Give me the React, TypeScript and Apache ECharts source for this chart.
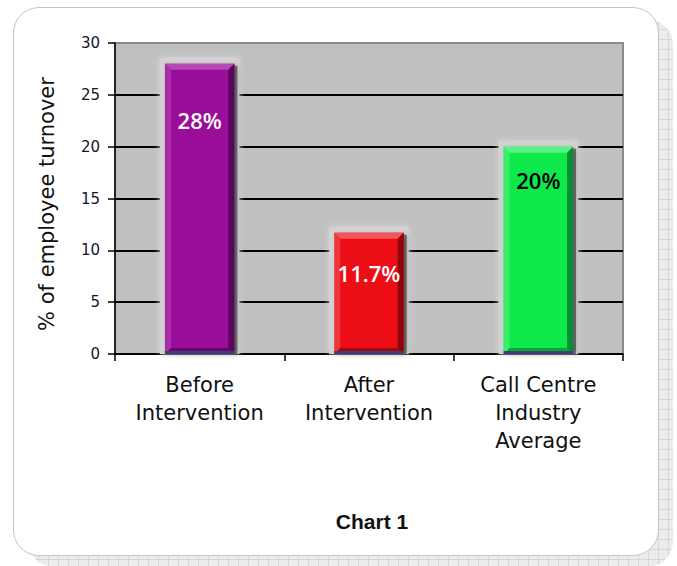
import React, { useEffect, useRef } from "react";
import * as echarts from "echarts";

const categories = ["Before\nIntervention", "After\nIntervention", "Call Centre\nIndustry\nAverage"];
const values = [28, 11.7, 20];
const valueLabels = ["28%", "11.7%", "20%"];
const yTicks = [0, 5, 10, 15, 20, 25, 30];

const barFill = ["#9a0d9a", "#ec0d16", "#0de94b"];
const barLight = ["#b448b4", "#f4555c", "#5cf386"];
const barDark = ["#5a065a", "#8c060b", "#079032"];
const labelColor = ["#ffffff", "#ffffff", "#000000"];
const labelOffset = [56, 40, 33];

export default function App() {
  const ref = useRef<HTMLDivElement>(null);
  useEffect(() => {
    if (!ref.current) return;
    const chart = echarts.init(ref.current, undefined, { renderer: "svg" });
    const data = values.map((v, i) => [i, v]);
    chart.setOption({
      animation: false,
      backgroundColor: "transparent",
      grid: {
        left: 115,
        right: 54,
        top: 43,
        bottom: 212,
        show: true,
        backgroundColor: "#c0c0c0",
        borderColor: "#8a8a8a",
        borderWidth: 2,
      },
      xAxis: {
        type: "category",
        data: categories,
        axisLine: { show: true, lineStyle: { color: "#000", width: 1.5 } },
        axisTick: { show: true, length: 7, alignWithLabel: false, lineStyle: { color: "#000", width: 1.5 } },
        axisLabel: {
          color: "#111",
          fontFamily: "DejaVu Sans",
          fontSize: 21,
          lineHeight: 28,
          margin: 17,
          interval: 0,
        },
      },
      yAxis: {
        type: "value",
        min: 0,
        max: 30,
        interval: 5,
        axisLine: { show: true, lineStyle: { color: "#000", width: 1.5 } },
        axisTick: { show: true, length: 7, lineStyle: { color: "#000", width: 1.5 } },
        axisLabel: {
          color: "#15152e",
          fontFamily: "DejaVu Sans",
          fontSize: 15,
          margin: 15,
          formatter: (v: number) => (yTicks.includes(v) ? String(v) : ""),
        },
        splitLine: {
          show: true,
          lineStyle: {
            color: ["#000", "#000", "#000", "#000", "#000", "#000", "#8a8a8a"],
            width: 1.8,
          },
        },
      },
      graphic: [
        {
          type: "text",
          x: 47,
          y: 204,
          rotation: Math.PI / 2,
          style: {
            text: "% of employee turnover",
            fill: "#111",
            font: "21px 'DejaVu Sans'",
            align: "center",
            verticalAlign: "middle",
          },
        },
        {
          type: "text",
          x: 372,
          y: 521,
          style: {
            text: "Chart 1",
            fill: "#111",
            font: "bold 21px 'Liberation Sans'",
            align: "center",
            verticalAlign: "middle",
          },
        },
      ],
      series: [
        {
          type: "custom",
          data,
          renderItem: (params: any, api: any) => {
            const i = api.value(0);
            const v = api.value(1);
            const top = api.coord([i, v]);
            const base = api.coord([i, 0]);
            const band = api.size([1, 0])[0];
            const w = band * 0.41;
            const x = top[0] - w / 2;
            const y = top[1];
            const h = base[1] - y;
            const b = 6;
            return {
              type: "group",
              children: [
                {
                  type: "rect",
                  shape: { x: x - 5, y: y - 6, width: w + 10, height: h + 6 },
                  style: { fill: "#d2d2d2", shadowBlur: 6, shadowColor: "#dadada" },
                },
                {
                  type: "rect",
                  shape: { x: x + 3, y: y + 2, width: w, height: h - 2 },
                  style: { fill: "rgba(0,0,0,0.45)", shadowBlur: 5, shadowColor: "rgba(0,0,0,0.5)" },
                },
                {
                  type: "rect",
                  shape: { x, y, width: w, height: h },
                  style: { fill: barFill[i] },
                },
                {
                  type: "polygon",
                  shape: { points: [[x, y], [x + w, y], [x + w - b, y + b], [x + b, y + b]] },
                  style: { fill: barLight[i] },
                },
                {
                  type: "polygon",
                  shape: { points: [[x, y], [x + b, y + b], [x + b, y + h - b], [x, y + h]] },
                  style: { fill: barLight[i], opacity: 0.55 },
                },
                {
                  type: "polygon",
                  shape: { points: [[x + w, y], [x + w, y + h], [x + w - b, y + h - b], [x + w - b, y + b]] },
                  style: { fill: barDark[i] },
                },
                {
                  type: "polygon",
                  shape: { points: [[x, y + h], [x + w, y + h], [x + w - b, y + h - b], [x + b, y + h - b]] },
                  style: { fill: barDark[i], opacity: 0.75 },
                },
                {
                  type: "rect",
                  shape: { x, y: y + h - 3, width: w, height: 3 },
                  style: { fill: "#3e3e78" },
                },
                {
                  type: "text",
                  x: top[0],
                  y: y + labelOffset[i],
                  style: {
                    text: valueLabels[i],
                    fill: labelColor[i],
                    font: "600 22px 'Open Sans'",
                    align: "center",
                    verticalAlign: "middle",
                  },
                },
              ],
            };
          },
        },
      ],
    });
    return () => chart.dispose();
  }, []);

  return (
    <div style={{ position: "absolute", left: 0, top: 0, width: 677, height: 566, background: "#fff", overflow: "hidden" }}>
      <div
        style={{
          position: "absolute",
          left: 28,
          top: 19,
          width: 645,
          height: 548,
          borderRadius: 26,
          backgroundColor: "#ececec",
          backgroundImage:
            "linear-gradient(#d6d6d6 1px, transparent 1px), linear-gradient(90deg, #d6d6d6 1px, transparent 1px)",
          backgroundSize: "10px 10px",
        }}
      />
      <div
        style={{
          position: "absolute",
          left: 13,
          top: 7,
          width: 644,
          height: 547,
          borderRadius: 26,
          background: "#fff",
          border: "1px solid #c4c4c4",
        }}
      />
      <div ref={ref} style={{ position: "absolute", left: 0, top: 0, width: 677, height: 566 }} />
    </div>
  );
}
